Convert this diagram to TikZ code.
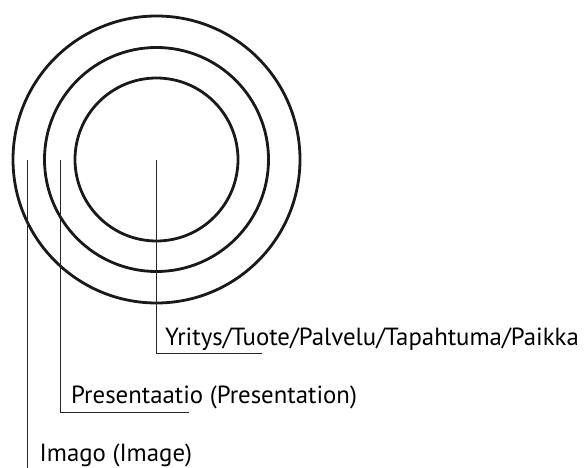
\documentclass[tikz,border=0pt]{standalone}
\usepackage{fontspec}
\setmainfont{PT Sans}
\begin{document}
\begin{tikzpicture}[x=1pt,y=-1pt,
  ring/.style={draw=black!90,line width=2.8pt},
  leader/.style={draw=black!85,line width=1.2pt},
  lbl/.style={anchor=base west,inner sep=0pt,font=\fontsize{24.8}{28}\selectfont,text=black}]
\useasboundingbox (0,0) rectangle (584,468);
\coordinate (c) at (156.5,159.5);
\draw[ring] (c) circle[radius=143.5];
\draw[ring] (c) circle[radius=112];
\draw[ring] (c) circle[radius=81.5];
\coordinate (s1) at (156.5,160);
\coordinate (s2) at (60.5,160);
\coordinate (s3) at (27.3,160);
\coordinate (e1) at (261.7,353.3);
\coordinate (e2) at (189,412.5);
\coordinate (e3) at (27.3,470);
\node[lbl] (t1) at (165,345) {Yritys/Tuote/Palvelu/Tapahtuma/Paikka};
\node[lbl] (t2) at (71,403.3) {Presentaatio (Presentation)};
\node[lbl] (t3) at (39.5,461.5) {Imago (Image)};
\draw[leader] (s1) |- (e1);
\draw[leader] (s2) |- (e2);
\draw[leader] (s3) -- (e3);
\end{tikzpicture}
\end{document}
